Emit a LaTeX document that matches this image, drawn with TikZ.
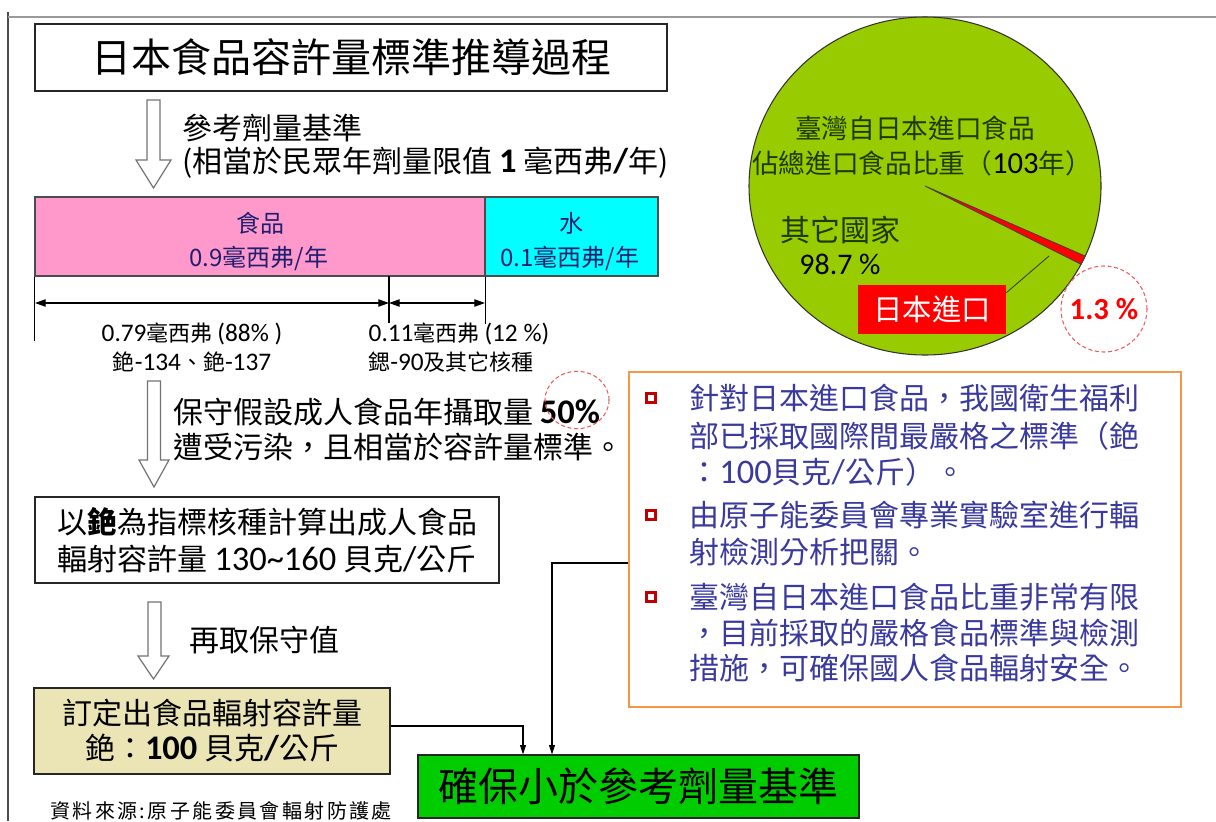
\documentclass[tikz,border=0pt]{standalone}
\usepackage{fontspec}
\setmainfont{Noto Sans CJK TC}
\newfontfamily\lat[Scale=1.15]{Carlito}
\usetikzlibrary{arrows.meta,calc}
\definecolor{pinkbar}{HTML}{FF99CC}
\definecolor{cyanbar}{HTML}{00FFFF}
\definecolor{navy}{HTML}{1F1F70}
\definecolor{infotext}{HTML}{3A3A9E}
\definecolor{infoborder}{HTML}{F79646}
\definecolor{bulred}{HTML}{C00000}
\definecolor{beige}{HTML}{EBE5B5}
\definecolor{boxgreen}{HTML}{00CC00}
\definecolor{piegreen}{HTML}{99CC00}
\definecolor{pietext}{HTML}{1E3A00}
\definecolor{dashred}{HTML}{F05A5A}
\newcommand\fsz[2]{\fontsize{#1}{#2}\selectfont}
\newcommand\blat[1]{{\lat\bfseries #1}}
\begin{document}
\begin{tikzpicture}[x=0.75pt,y=-0.75pt,
  box/.style={draw=black!85,line width=1pt,inner sep=0pt,align=center},
  txt/.style={inner sep=0pt,anchor=west},
  ctxt/.style={inner sep=0pt,anchor=center},
  hollow/.style={draw=black!55,fill=white,line width=0.9pt,line join=miter},
  dimarrow/.style={line width=0.9pt,{Triangle[length=8pt,width=5.5pt]}-{Triangle[length=8pt,width=5.5pt]}},
  conn/.style={line width=0.8pt,-{Triangle[length=7pt,width=4.5pt]}},
  bullet/.style={draw=bulred,line width=1.8pt,fill=white,minimum size=7pt,inner sep=0pt},
  redring/.style={draw=dashred,line width=0.8pt,dash pattern=on 3pt off 2pt}
]
\path[use as bounding box] (0,0) rectangle (1216,821);
\draw[black!70,line width=0.8pt] (8,12) -- (8,821);
\draw[black!40,line width=1.5pt] (8,17) -- (1216,17);

% title
\node[box,minimum width=474pt,minimum height=50.25pt,font=\fsz{30}{30}] (title) at (351,57.5) {日本食品容許量標準推導過程};

% block arrows
\draw[hollow] (147,100) -- (160,100) -- (160,160) -- (171,160) -- (153.5,188) -- (136,160) -- (147,160) -- cycle;
\draw[hollow] (147.5,381) -- (160.5,381) -- (160.5,460) -- (169,460) -- (154,487) -- (139,460) -- (147.5,460) -- cycle;
\draw[hollow] (148,602) -- (161,602) -- (161,656) -- (169,656) -- (153.5,679) -- (138,656) -- (148,656) -- cycle;

\node[txt] (ref1) at (182,128) {\fsz{22.5}{22.5}參考劑量基準};
\node[txt] (ref2) at (182,163) {\fsz{22.5}{22.5}(相當於民眾年劑量限值 \blat{1} 毫西弗\blat{/}年)};

% bar
\node[draw=black!70,line width=0.8pt,fill=pinkbar,minimum width=337.5pt,minimum height=59.25pt,inner sep=0pt] (food) at (260,236.5) {};
\node[draw=black!70,line width=0.8pt,fill=cyanbar,minimum width=129.75pt,minimum height=59.25pt,inner sep=0pt] (water) at (571.5,236.5) {};
\node[ctxt,text=navy] (foodl1) at (260,223) {\fsz{18}{18}食品};
\node[ctxt,text=navy] (foodl2) at (259,258) {\fsz{18}{18}0.9毫西弗/年};
\node[ctxt,text=navy] (wat1) at (571,223) {\fsz{18}{18}水};
\node[ctxt,text=navy] (wat2) at (570,258) {\fsz{18}{18}0.1毫西弗/年};

% dimension lines
\coordinate (t1) at (389,276);
\draw[line width=0.8pt] (food.south west) -- ++(0,64);
\draw[line width=0.8pt] (t1) -- ++(0,47);
\draw[line width=0.8pt] (food.south east) -- ++(0,47);
\coordinate (d0) at (35,303);
\coordinate (d1) at (389,303);
\coordinate (d2) at (485,303);
\draw[dimarrow] (d0) -- (d1);
\draw[dimarrow] (d1) -- (d2);

\node[ctxt] (lab1) at (192,334) {\fsz{16.5}{16.5}{\lat 0.79}毫西弗 {\lat (88\% )}};
\node[ctxt] (lab2) at (192,362) {\fsz{16.5}{16.5}銫{\lat -134}、銫{\lat -137}};
\node[ctxt] (lab3) at (459,334) {\fsz{16.5}{16.5}{\lat 0.11}毫西弗 {\lat (12 \%)}};
\node[ctxt] (lab4) at (451,362) {\fsz{16.5}{16.5}鍶{\lat -90}及其它核種};

% assumption
\node[txt] (assume1) at (173,412) {\fsz{22.5}{22.5}保守假設成人食品年攝取量 \blat{50\%}};
\node[txt] (assume2) at (173,447) {\fsz{22.5}{22.5}遭受污染，且相當於容許量標準。};
\draw[redring] (577,400) ellipse [x radius=24pt, y radius=21.5pt];

\node[box,minimum width=348pt,minimum height=64.5pt,font=\fsz{22.5}{27.75}] (derive) at (267,540) {以\textbf{銫}為指標核種計算出成人食品\\輻射容許量 {\lat 130\textasciitilde160} 貝克{\lat /}公斤};

\node[txt] (cons) at (189,640) {\fsz{22.5}{22.5}再取保守值};

\node[box,fill=beige,minimum width=267pt,minimum height=64.5pt,font=\fsz{22.5}{26.25}] (final) at (212,731) {訂定出食品輻射容許量\\銫：\blat{100} 貝克\blat{/}公斤};

\node[box,fill=boxgreen,minimum width=330.75pt,minimum height=47.25pt,font=\fsz{30}{30}] (goal) at (638.5,786.5) {確保小於參考劑量基準};

% info box
\node[draw=infoborder,line width=1pt,minimum width=414pt,minimum height=251.25pt,inner sep=0pt] (info) at (905,539.5) {};
\node[bullet] (b1) at (651,398) {};
\node[bullet] (b2) at (651,515) {};
\node[bullet] (b3) at (651,597) {};
\node[txt,text=infotext] (i1) at (689,398) {\fsz{22.5}{22.5}針對日本進口食品，我國衛生福利};
\node[txt,text=infotext] (i2) at (689,436) {\fsz{22.5}{22.5}部已採取國際間最嚴格之標準（銫};
\node[txt,text=infotext] (i3) at (689,472) {\fsz{22.5}{22.5}：{\lat 100}貝克{\lat /}公斤）。};
\node[txt,text=infotext] (i4) at (689,515) {\fsz{22.5}{22.5}由原子能委員會專業實驗室進行輻};
\node[txt,text=infotext] (i5) at (689,552) {\fsz{22.5}{22.5}射檢測分析把關。};
\node[txt,text=infotext] (i6) at (689,597) {\fsz{22.5}{22.5}臺灣自日本進口食品比重非常有限};
\node[txt,text=infotext] (i7) at (689,633) {\fsz{22.5}{22.5}，目前採取的嚴格食品標準與檢測};
\node[txt,text=infotext] (i8) at (689,668) {\fsz{22.5}{22.5}措施，可確保國人食品輻射安全。};

% connectors
\draw[conn] ($(final.east)+(0,-5)$) -| ($(goal.north)+(-115.5,0)$);
\draw[conn] ($(info.west)+(0,23.5)$) -| ($(goal.north)+(-86.5,0)$);

\node[txt] (src) at (50,811) {\fsz{15}{15}\addfontfeature{LetterSpace=12}資料來源:原子能委員會輻射防護處};

% pie
\coordinate (pc) at (925,186);
\draw[fill=piegreen,draw=black!80,line width=0.8pt] (pc) ellipse [x radius=132pt, y radius=126.75pt];
\draw[fill=red,draw=black!75,line width=0.6pt] (pc) -- ++(-24.5:132pt and 126.75pt) arc[start angle=-24.5,end angle=-27.6,x radius=132pt,y radius=126.75pt] -- cycle;
\node[ctxt,text=pietext] (pt1) at (915,128) {\fsz{20}{20}臺灣自日本進口食品};
\node[ctxt,text=pietext] (pt2) at (922,163) {\fsz{20}{20}佔總進口食品比重（{\lat\color{black}103}年）};
\node[ctxt,text=pietext] (pt3) at (840,230) {\fsz{22.5}{22.5}其它國家};
\node[ctxt] (pt4) at (840,264) {\fsz{19.5}{19.5}\lat 98.7 \%};
\node[fill=red,minimum width=111pt,minimum height=36.75pt,inner sep=0pt,text=white] (jp) at (932,309.5) {\fsz{22}{22}日本進口};
\coordinate (lead) at (1049,256);
\draw[line width=0.6pt,black!80] ($(jp.north east)+(0,8)$) -- (lead);
\node[circle,redring,minimum size=64.5pt,inner sep=0pt,text=red] (p13) at (1104,309) {\fsz{20}{20}\bfseries\lat 1.3 \%};
\end{tikzpicture}
\end{document}
